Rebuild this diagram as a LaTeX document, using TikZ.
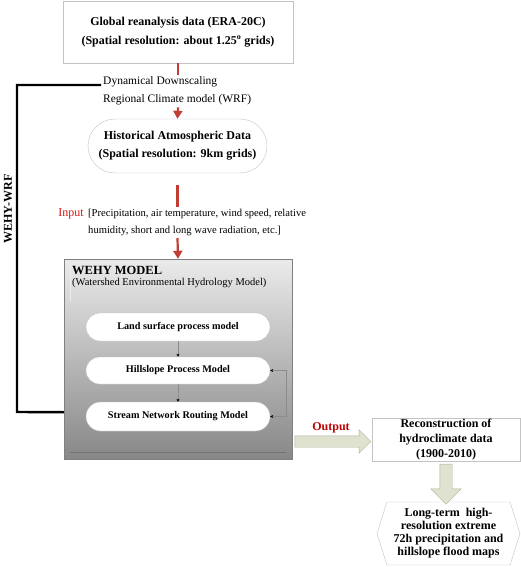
\documentclass[tikz,border=0pt]{standalone}
\usepackage{fontspec}
\setmainfont{Liberation Serif}
\usetikzlibrary{shapes.arrows,shapes.symbols,arrows.meta}

\definecolor{flowred}{RGB}{192,62,50}
\definecolor{inred}{RGB}{210,20,20}
\definecolor{outred}{RGB}{190,0,0}
\definecolor{boxline}{RGB}{195,195,195}
\definecolor{arrfill}{RGB}{222,226,206}
\definecolor{arrline}{RGB}{172,178,152}

\tikzset{
  databox/.style={draw=boxline, rectangle, inner sep=0pt, align=center},
  pill/.style={draw=boxline, fill=white, rectangle, inner sep=0pt, align=center},
  plain/.style={inner sep=0pt, align=left},
  redline/.style={draw=flowred, line width=2.2pt},
  redarr/.style={redline, -{Triangle[length=8pt,width=9pt]}},
  modarr/.style={-{Stealth[black,length=3pt,width=3pt]}, draw=black!45, line width=0.5pt},
  blockarr/.style={single arrow, draw=arrline, fill=arrfill},
}

\begin{document}
\begin{tikzpicture}[x=1pt,y=-1pt,>=stealth]
\useasboundingbox (0,0) rectangle (520,567);

% --- Donnees d'entree ---
\node[databox, minimum width=230pt, minimum height=62pt,
  font=\fontsize{12}{19}\selectfont\bfseries] (glob) at (178,32)
  {Global reanalysis data (ERA-20C)\\(Spatial resolution: about 1.25$^{\mathbf{o}}$ grids)};

\node[plain, anchor=west, inner sep=2pt, font=\fontsize{11.5}{18}\selectfont] (dyn) at (101,91)
  {Dynamical Downscaling\\Regional Climate model (WRF)};

\node[pill, minimum width=179pt, minimum height=54pt, rounded corners=27pt,
  font=\fontsize{12}{18}\selectfont\bfseries] (hist) at (177.5,146)
  {Historical Atmospheric Data\\(Spatial resolution: 9km grids)};

\node[plain, anchor=west, inner sep=2pt, font=\fontsize{10.6}{17}\selectfont] (intxt) at (86,222.5)
  {[Precipitation, air temperature, wind speed, relative\\humidity, short and long wave radiation, etc.]};
\node[plain, anchor=east, text=inred, font=\fontsize{12}{14}\selectfont] (inlbl) at (84,213.5) {Input};

\draw[redline] (glob.south) -- (glob.south |- dyn.north);
\draw[redarr] (glob.south |- dyn.south) -- (hist.north);
\draw[redline] (hist.south) ++(0,12) -- (hist.south |- intxt.north);

% --- Modele WEHY ---
\node[draw=black!50, top color=black!8, bottom color=black!47, rectangle,
  minimum width=228pt, minimum height=200pt] (wehy) at (178,359) {};
\draw[redarr] (hist.south |- intxt.south) -- (wehy.north);
\draw[white!85!gray] ([xshift=6pt,yshift=-6pt]wehy.north west) -- ([xshift=6pt,yshift=-42pt]wehy.north west);
\draw[black!55] ([xshift=6pt,yshift=7pt]wehy.south west) -- ([xshift=-6pt,yshift=7pt]wehy.south east);

\node[plain, anchor=north west] (wlbl) at (72,266)
  {{\fontsize{12.5}{14}\selectfont\bfseries WEHY MODEL}\\[-1pt]
   {\fontsize{10.5}{13}\selectfont (Watershed Environmental Hydrology Model)}};

\node[pill, minimum width=184pt, minimum height=28pt, rounded corners=14pt,
  font=\fontsize{10.2}{12}\selectfont\bfseries] (land) at (178,327) {Land surface process model};
\node[pill, minimum width=184pt, minimum height=27pt, rounded corners=13.5pt,
  font=\fontsize{10.2}{12}\selectfont\bfseries] (hill) at (178,370.5) {Hillslope Process Model};
\node[pill, minimum width=184pt, minimum height=29pt, rounded corners=14.5pt,
  font=\fontsize{10.2}{12}\selectfont\bfseries] (stream) at (178,416.5) {Stream Network Routing Model};

\draw[modarr] (land) -- (hill);
\draw[modarr] (hill) -- (stream);
\draw[modarr, {Stealth[black,length=3pt,width=3pt]}-{Stealth[black,length=3pt,width=3pt]}]
  (hill.east) -- ++(16,0) |- (stream.east);

% --- Couplage WEHY-WRF ---
\draw[line width=2.4pt] ([yshift=6pt]dyn.west) -- (17,85) -- (17,412) -- ([yshift=47pt]wehy.south west);
\node[rotate=90, font=\fontsize{12}{14}\selectfont\bfseries] (wrf) at (8,209) {WEHY-WRF};

% --- Resultats ---
\node[databox, minimum width=148pt, minimum height=43pt,
  font=\fontsize{12}{15}\selectfont\bfseries] (recon) at (446,439.5)
  {Reconstruction of\\hydroclimate data\\(1900-2010)};

\node[draw=boxline, signal, signal to=west and east, signal pointer angle=145,
  inner sep=0pt, minimum width=143pt, minimum height=63pt, align=center,
  font=\fontsize{12}{13}\selectfont\bfseries] (maps) at (448.5,533.5)
  {Long-term\ \ high-\\resolution extreme\\72h precipitation and\\hillslope flood maps};

\node[blockarr, inner sep=5.5pt, minimum height=76pt, single arrow head extend=6pt] (outarr) at (330,441.5) {};
\node[text=outred, font=\fontsize{12}{14}\selectfont\bfseries] (outlbl) at (331,428) {Output};
\node[blockarr, shape border rotate=270, inner sep=6pt, minimum height=40pt,
  single arrow head extend=9pt] (downarr) at (446,481) {};

\end{tikzpicture}
\end{document}
